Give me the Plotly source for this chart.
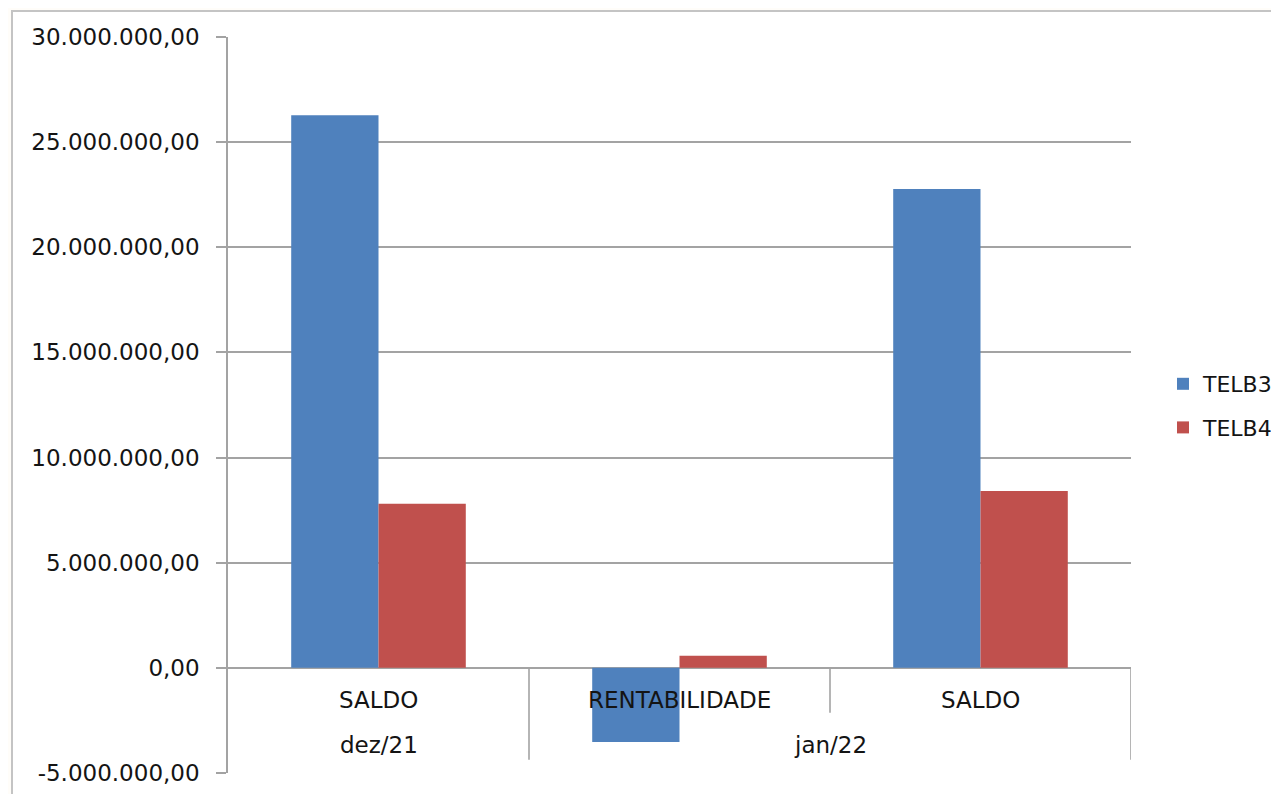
import plotly.graph_objects as go

# ---- data ----
periods = ["dez/21", "jan/22", "jan/22"]
items = ["SALDO", "RENTABILIDADE", "SALDO"]
telb3 = [26280000, -3520000, 22770000]
telb4 = [7800000, 570000, 8410000]
series_names = ["TELB3", "TELB4"]
y_ticks = [-5000000, 0, 5000000, 10000000, 15000000, 20000000, 25000000, 30000000]


def fmt_br(v):
    s = f"{abs(v):,.2f}".replace(",", "X").replace(".", ",").replace("X", ".")
    return ("-" if v < 0 else "") + s


cats = [f"{p} {i} {k}" for k, (p, i) in enumerate(zip(periods, items))]

OFF = 8  # page body margin
W, H = 1292, 794 - OFF
L = 228 - OFF
T = 37 - OFF
R = W - (1131 - OFF)
B = H - (773 - OFF)
pw, ph = W - L - R, H - T - B

FONT = "DejaVu Sans"
FS = 23
FSL = 22
TXT = "#141414"
GRID = "#a3a3a3"
GW = 1.6
BLUE = "#4F81BD"
RED = "#C0504D"

fig = go.Figure()
fig.add_trace(go.Bar(x=cats, y=telb3, name=series_names[0], marker=dict(color=BLUE, line=dict(width=0)),
                     legendgroup="a"))
fig.add_trace(go.Bar(x=cats, y=telb4, name=series_names[1], marker=dict(color=RED, line=dict(width=0)),
                     legendgroup="b"))

shapes = []
# chart border (white chart area over cream page)
shapes.append(dict(type="rect", xref="paper", yref="paper", layer="below",
                   x0=(12 - OFF - L) / pw, x1=(W + 10 - L) / pw,
                   y0=-(B + 10) / ph, y1=(H - (11 - OFF) - B) / ph,
                   fillcolor="white", line=dict(color="#c4c4c4", width=2)))

# category separators below the zero line
y_low_sep = -4370000
y_mid_sep = -2140000
for k in range(1, len(cats) + 1):
    xpos = k - 0.5
    if k == len(cats) or periods[k] != periods[k - 1]:
        ybot = y_low_sep
    else:
        ybot = y_mid_sep
    shapes.append(dict(type="line", xref="x", yref="y", x0=xpos, x1=xpos, y0=0, y1=ybot,
                       line=dict(color=GRID, width=GW)))

annotations = []
for k, it in enumerate(items):
    annotations.append(dict(x=k, y=-1520000, xref="x", yref="y", text=it, showarrow=False,
                            font=dict(family=FONT, size=FS, color=TXT)))
groups = {}
for k, p in enumerate(periods):
    groups.setdefault(p, []).append(k)
for p, idx in groups.items():
    annotations.append(dict(x=sum(idx) / len(idx), y=-3660000, xref="x", yref="y", text=p, showarrow=False,
                            font=dict(family=FONT, size=FS, color=TXT)))

fig.update_layout(
    width=W, height=H,
    margin=dict(l=L, r=R, t=T, b=B, pad=0, autoexpand=False),
    paper_bgcolor="#fffdf9",
    plot_bgcolor="rgba(0,0,0,0)",
    barmode="group",
    bargap=0.42,
    bargroupgap=0,
    font=dict(family=FONT, size=FS, color=TXT),
    showlegend=True,
    legend=dict(x=(1163 - OFF - L) / pw, y=(H - B - (406 - OFF)) / ph, xanchor="left", yanchor="middle",
                traceorder="grouped", tracegroupgap=12, font=dict(family=FONT, size=FSL, color=TXT),
                bgcolor="rgba(0,0,0,0)", itemwidth=30),
    xaxis=dict(showticklabels=False, showgrid=False, showline=False, ticks="", automargin=False,
               range=[-0.5, len(cats) - 0.5], fixedrange=True),
    yaxis=dict(range=[-5000000, 30000000], tickvals=y_ticks, ticktext=[fmt_br(v) for v in y_ticks],
               automargin=False,
               showgrid=True, gridcolor=GRID, gridwidth=GW,
               zeroline=True, zerolinecolor=GRID, zerolinewidth=GW,
               showline=True, linecolor=GRID, linewidth=GW,
               ticks="outside", ticklen=10, tickcolor=GRID, tickwidth=GW,
               ticklabelstandoff=12, tickfont=dict(family=FONT, size=FS, color=TXT)),
    shapes=shapes,
    annotations=annotations,
)

fig.write_html("out.html")
